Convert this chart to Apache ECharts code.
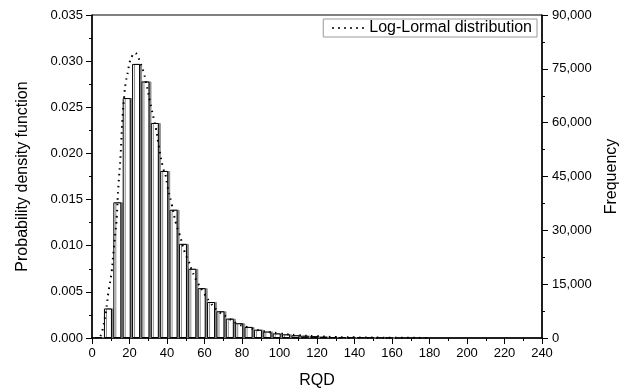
<!DOCTYPE html>
<html>
<head>
<meta charset="utf-8">
<script src="https://cdn.jsdelivr.net/npm/echarts@6/dist/echarts.min.js"></script>
<style>
	html, body { margin: 0; padding: 0; background: #fff; }
	#chart { width: 630px; height: 390px; }
</style>
</head>
<body>
<div id="chart"></div>
<script>
// histogram bins (RQD centre) and probability density
const binCenters = [3.5, 8.5, 13.5, 18.5, 23.5, 28.5, 33.5, 38.5, 43.5, 48.5, 53.5, 58.5, 63.5, 68.5, 73.5, 78.5, 83.5, 88.5, 93.5, 98.5, 103.5, 108.5, 113.5, 118.5, 123.5, 128.5, 133.5, 138.5, 143.5, 148.5, 153.5, 158.5];
const pdfValues = [0.0001, 0.0032, 0.0147, 0.026, 0.0297, 0.0278, 0.0233, 0.0181, 0.0139, 0.0102, 0.0075, 0.0054, 0.0039, 0.0029, 0.0021, 0.0016, 0.0012, 0.0009, 0.0007, 0.0005, 0.0004, 0.0003, 0.00025, 0.0002, 0.00015, 0.0001, 0.00008, 0.00006, 0.00005, 0.00004, 0.00003, 0.00002];

// dotted log-normal curve
const curveX = [4.5, 5.7, 7.5, 8.7, 10.5, 11.4, 12.4, 13.2, 14.0, 15.3, 16.2, 17.4, 18.1, 19.2, 20.1, 21.5, 22.8, 24.2, 25.6, 27.4, 28.6, 31.8, 32.9, 34.1, 35.7, 37.7, 39.4, 40.2, 42.5, 44.8, 46.6, 49.6, 51.6, 53.5, 55.8, 59.0, 62.9, 66.8, 72.4, 77, 82.5, 90, 100, 110, 120, 130, 140, 160, 180];
const curveY = [0.0002, 0.00095, 0.003, 0.0049, 0.0072, 0.0092, 0.0113, 0.0131, 0.0162, 0.02, 0.0236, 0.0267, 0.0278, 0.0289, 0.0299, 0.0306, 0.0309, 0.0306, 0.0299, 0.0289, 0.0279, 0.0248, 0.0238, 0.0227, 0.0207, 0.0186, 0.0175, 0.0165, 0.0145, 0.0124, 0.0113, 0.0092, 0.0083, 0.0072, 0.0062, 0.0051, 0.0039, 0.003, 0.0022, 0.0016, 0.0012, 0.0008, 0.0005, 0.0003, 0.0002, 0.0001, 0.00007, 0.00003, 0.00001];

// tick marks
const xTicks = [0, 240, 20];
const leftTicks = [0, 0.035, 0.005];
const rightTicks = [0, 90000, 15000];

const font = "Liberation Sans, Arial, sans-serif";
const axisText = { color: "#000", fontFamily: font, fontSize: 13 };
const nameText = { color: "#000", fontFamily: font, fontSize: 16 };
const tick = { show: true, length: 6, lineStyle: { color: "#000" } };
const minor = { show: true, splitNumber: 2, length: 3, lineStyle: { color: "#000" } };
const axisLine = { show: true, lineStyle: { color: "#000", width: 1.5 } };

const option = {
	animation: false,
	backgroundColor: "#fff",
	grid: {
		left: 92,
		right: 88,
		top: 15,
		bottom: 52,
		outerBoundsMode: "none",
		show: true,
		borderColor: "#000",
		borderWidth: 1,
	},
	legend: {
		data: ["Log-Lormal distribution"],
		right: 93,
		top: 19,
		itemWidth: 32,
		itemHeight: 10,
		padding: [1, 5, 1, 8],
		borderColor: "#999",
		borderWidth: 1,
		borderRadius: 0,
		itemStyle: { opacity: 0 },
		textStyle: { color: "#000", fontFamily: font, fontSize: 16 },
	},
	xAxis: {
		type: "value",
		min: xTicks[0],
		max: xTicks[1],
		interval: xTicks[2],
		name: "RQD",
		nameLocation: "middle",
		nameGap: 35,
		nameTextStyle: nameText,
		axisLine: axisLine,
		axisTick: tick,
		minorTick: minor,
		splitLine: { show: false },
		axisLabel: Object.assign({ margin: 9 }, axisText),
	},
	yAxis: [
		{
			type: "value",
			min: leftTicks[0],
			max: leftTicks[1],
			interval: leftTicks[2],
			name: "Probability density function",
			nameLocation: "middle",
			nameGap: 61,
			nameTextStyle: nameText,
			axisLine: axisLine,
			axisTick: tick,
			minorTick: minor,
			splitLine: { show: false },
			axisLabel: Object.assign({ margin: 9, formatter: v => v.toFixed(3) }, axisText),
		},
		{
			type: "value",
			position: "right",
			min: rightTicks[0],
			max: rightTicks[1],
			interval: rightTicks[2],
			name: "Frequency",
			nameLocation: "middle",
			nameGap: 62,
			nameTextStyle: nameText,
			axisLine: axisLine,
			axisTick: tick,
			minorTick: minor,
			splitLine: { show: false },
			axisLabel: Object.assign({ margin: 10, formatter: v => v.toLocaleString("en-US") }, axisText),
		},
	],
	series: [
		{
			type: "bar",
			name: "histogram",
			yAxisIndex: 0,
			barWidth: 8,
			data: binCenters.map((x, i) => [x, pdfValues[i]]),
			itemStyle: {
				color: "#fff",
				borderColor: "#000",
				borderWidth: 1,
				shadowColor: "#8a8a8a",
				shadowOffsetX: 2,
				shadowBlur: 0,
			},
		},
		{
			type: "line",
			name: "Log-Lormal distribution",
			yAxisIndex: 0,
			smooth: true,
			showSymbol: false,
			symbol: "none",
			data: curveX.map((x, i) => [x, curveY[i]]),
			lineStyle: { color: "#000", width: 2, type: [1.5, 4.5] },
			itemStyle: { color: "#000" },
			z: 5,
		},
	],
};

const myEcharts = echarts.init(document.getElementById("chart"));
myEcharts.setOption(option);
</script>
</body>
</html>
